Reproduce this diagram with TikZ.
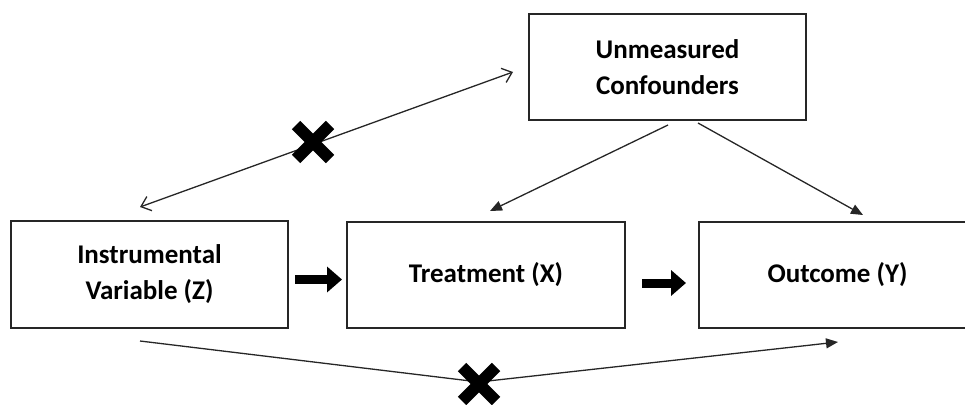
\documentclass[tikz,border=0pt]{standalone}
\usepackage{fontspec}
\setmainfont{Carlito}
\usetikzlibrary{arrows.meta,calc}
\definecolor{edge}{HTML}{262626}
\tikzset{
  box/.style={draw=edge, line width=1.8pt, minimum height=106pt, align=center,
    font=\fontsize{27}{36}\selectfont\bfseries, inner sep=0pt},
  thinline/.style={draw=edge, line width=1.3pt},
  fillhead/.style={thinline, -{Triangle[length=12pt,width=10pt]}},
  barbs/.style={thinline, {Straight Barb[length=9pt,width=15pt,line width=1.3pt]}-{Straight Barb[length=9pt,width=15pt,line width=1.3pt]}},
  fat/.style={line width=9pt, -{Triangle[length=15pt,width=25pt]}},
  xmark/.style={line width=12pt},
}
\begin{document}
\begin{tikzpicture}[x=1pt,y=-1pt]
\useasboundingbox (0,0) rectangle (965,404);
\node[box, minimum width=277pt] (conf) at (667.5,67) {Unmeasured\\Confounders};
\node[box, minimum width=277pt, minimum height=107pt] (iv) at (149.5,274.5) {Instrumental\\Variable (Z)};
\node[box, minimum width=278pt] (tr) at (486,275) {Treatment (X)};
\node[box, minimum width=277pt] (out) at (837.5,275) {Outcome (Y)};
% free ends
\coordinate (ivtop) at (140,207);
\coordinate (conftip) at (513,72);
\coordinate (cA) at (668,125);
\coordinate (trtop) at (490,211);
\coordinate (cB) at (698,123);
\coordinate (outtop) at (863,215);
\coordinate (ivbot) at (140,341);
\coordinate (vtx) at (479,382);
\coordinate (outbot) at (838,342);
\coordinate (f1s) at (295,279.5);
\coordinate (f1e) at (342,279.5);
\coordinate (f2s) at (642,283);
\coordinate (f2e) at (686,283);
\coordinate (x1) at (313,142);
\coordinate (x2) at (479,384);
% connectors
\draw[barbs] (ivtop) -- (conftip);
\draw[fillhead] (cA) -- (trtop);
\draw[fillhead] (cB) -- (outtop);
\draw[fillhead] (ivbot) -- (vtx) -- (outbot);
\draw[fat] (f1s) -- (f1e);
\draw[fat] (f2s) -- (f2e);
% crosses
\draw[xmark] ($(x1)+(-17,-17)$) -- ($(x1)+(17,17)$) ($(x1)+(-17,17)$) -- ($(x1)+(17,-17)$);
\draw[xmark] ($(x2)+(-17,-17)$) -- ($(x2)+(17,17)$) ($(x2)+(-17,17)$) -- ($(x2)+(17,-17)$);
\end{tikzpicture}
\end{document}
